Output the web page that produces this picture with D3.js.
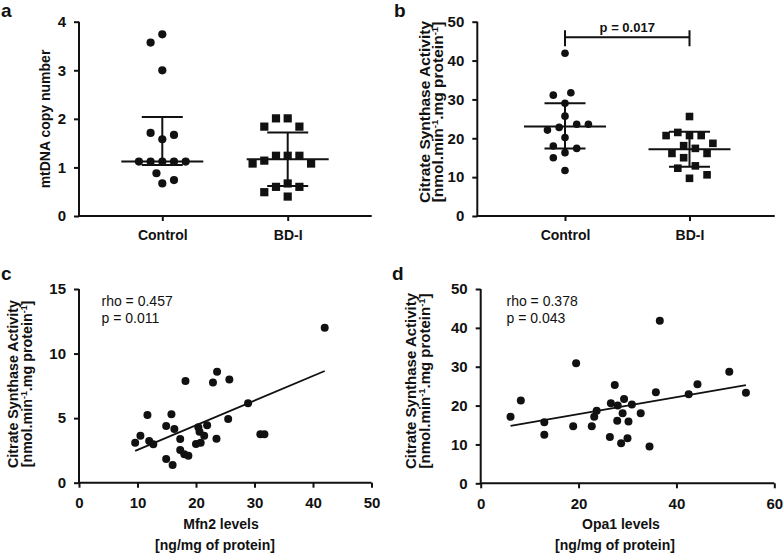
<!DOCTYPE html>
<html><head><meta charset="utf-8">
<script src="https://cdn.jsdelivr.net/npm/d3@7"></script>
<style>
body{margin:0;background:#fff}
svg{display:block}
text{font-family:"Liberation Sans",Arial,Helvetica,sans-serif;fill:#111}
</style>
</head><body>
<svg id="chart" width="783" height="556"></svg>
<script>
// ---------------- data ----------------
const groups = ["Control", "BD-I"];

// panel a: mtDNA copy number
const mtdnaTicks = [0, 1, 2, 3, 4];
const mtdnaControl = [3.74, 3.57, 3.00, 1.58, 1.71, 1.67, 1.12, 1.12, 1.12, 1.12, 1.12, 0.67, 0.88, 0.74];
const mtdnaBD = [2.01, 2.01, 1.84, 1.84, 1.24, 1.24, 1.24, 1.14, 1.08, 1.08, 0.67, 0.60, 0.60, 0.49, 0.40];
const mtdnaMedian = [1.12, 1.17];
const mtdnaLow = [1.05, 0.62];
const mtdnaHigh = [2.04, 1.72];

// panel b: citrate synthase activity
const csTicks = [0, 10, 20, 30, 40, 50];
const csControl = [41.9, 29.0, 31.1, 31.7, 25.7, 22.8, 23.6, 22.1, 23.6, 20.2, 18.0, 16.3, 17.4, 15.0, 11.7];
const csBD = [25.6, 20.7, 21.5, 20.7, 20.7, 18.7, 18.1, 17.4, 16.1, 16.1, 15.0, 12.9, 12.3, 10.6, 9.7];
const csMedian = [23.0, 17.2];
const csLow = [17.4, 12.7];
const csHigh = [29.0, 21.7];
const csPLabel = "p = 0.017";
const csBracketValue = 46;

// panel c: Mfn2 vs citrate synthase
const mfn2XTicks = [0, 10, 20, 30, 40, 50];
const mfn2YTicks = [0, 5, 10, 15];
const mfn2Levels = [42.0, 23.6, 25.7, 22.9, 18.2, 28.9, 11.7, 15.8, 25.5, 14.9, 16.3, 20.4, 21.9, 20.6, 21.4, 10.5, 31.0, 31.7, 17.3, 23.5, 9.6, 12.0, 12.7, 20.0, 20.8, 17.3, 18.0, 18.7, 14.9, 16.0];
const mfn2CS = [12.0, 8.6, 8.0, 7.75, 7.88, 6.15, 5.24, 5.3, 4.93, 4.39, 4.16, 4.29, 4.44, 3.95, 3.64, 3.64, 3.75, 3.75, 3.39, 3.41, 3.1, 3.23, 2.97, 3.0, 3.1, 2.53, 2.2, 2.09, 1.84, 1.37];
const mfn2Fit = [0.626, 0.191];           // intercept, slope
const mfn2Stats = ["rho = 0.457", "p = 0.011"];

// panel d: Opa1 vs citrate synthase
const opa1XTicks = [0, 20, 40, 60];
const opa1YTicks = [0, 10, 20, 30, 40, 50];
const opa1Levels = [36.6, 19.5, 50.8, 27.4, 44.3, 35.8, 54.2, 42.5, 8.2, 29.3, 26.6, 28.0, 30.9, 23.7, 23.2, 29.0, 32.7, 6.1, 13.0, 27.9, 30.2, 18.9, 22.7, 13.0, 26.4, 30.0, 28.7, 34.5];
const opa1CS = [41.8, 30.9, 28.7, 25.3, 25.5, 23.4, 23.3, 22.9, 21.3, 21.7, 20.6, 20.0, 20.3, 18.7, 17.1, 18.0, 18.0, 17.1, 15.7, 16.1, 15.9, 14.7, 14.7, 12.5, 11.9, 11.6, 10.3, 9.5];
const opa1Fit = [13.48, 0.217];
const opa1Stats = ["rho = 0.378", "p = 0.043"];

// ---------------- drawing ----------------
const svg = d3.select("#chart");
svg.append("rect").attr("width", 783).attr("height", 556).attr("fill", "#fff");
const INK = "#111";
const fmt = d3.format("d");

function styleAxis(size) {
  return g => {
    g.select(".domain").remove();
    g.selectAll(".tick line").attr("stroke", INK).attr("stroke-width", 2);
    g.selectAll(".tick text").attr("fill", INK)
      .style("font-size", size + "px").style("font-weight", "bold")
      .style("font-family", '"Liberation Sans",Arial,sans-serif');
  };
}

function frame(g, x0, x1, yBottom, yTop) {
  g.append("path")
    .attr("d", `M${x0},${yTop}V${yBottom}H${x1}`)
    .attr("fill", "none").attr("stroke", INK).attr("stroke-width", 2);
}

function panelLetter(letter, x, y) {
  svg.append("text").attr("x", x).attr("y", y).text(letter)
    .style("font-size", "19px").style("font-weight", "bold");
}

// rotated y label, lines: array of arrays of [text, isSup]
function yLabel(cx, cy, lines, size, gap) {
  const t = svg.append("text")
    .attr("transform", `translate(${cx},${cy}) rotate(-90)`)
    .attr("text-anchor", "middle")
    .style("font-size", size + "px").style("font-weight", "bold");
  lines.forEach((parts, i) => {
    const line = t.append("tspan").attr("x", 0).attr("y", i * gap);
    parts.forEach(([s, sup]) => {
      const ts = line.append("tspan").text(s);
      if (sup) ts.style("font-size", (size * 0.62) + "px").attr("baseline-shift", "super");
    });
  });
}

const CS_LINES = [
  [["Citrate Synthase Activity", false]],
  [["[nmol.min", false], ["-1", true], [".mg protein", false], ["-1", true], ["]", false]]
];

// simple swarm layout computed from values (in array order)
function swarm(values, y, step, minD) {
  const placed = [];
  return values.map(v => {
    const py = y(v);
    for (let k = 0; k < 40; k++) {
      const cands = k === 0 ? [0] : [-k * step, k * step];
      for (const dx of cands) {
        if (placed.every(p => Math.hypot(p.dx - dx, p.y - py) >= minD)) {
          placed.push({dx, y: py});
          return dx;
        }
      }
    }
    return 0;
  });
}

function dotPanel(opt) {
  const g = svg.append("g");
  const y = d3.scaleLinear().domain(opt.yDomain).range([opt.yBottom, opt.yTop]);
  const x = d3.scalePoint().domain(groups).range(opt.xRange);
  frame(g, opt.x0, opt.x1, opt.yBottom, opt.yTop);
  g.append("g").attr("transform", `translate(${opt.x0},0)`)
    .call(d3.axisLeft(y).tickValues(opt.ticks).tickFormat(fmt).tickSize(5).tickPadding(8).tickSizeOuter(0))
    .call(styleAxis(15));
  g.append("g").attr("transform", `translate(0,${opt.yBottom})`)
    .call(d3.axisBottom(x).tickSize(5).tickPadding(9).tickSizeOuter(0))
    .call(styleAxis(14));

  const step = 5.85, minD = 11.5;
  const marks = g.append("g");
  // control: circles
  const offC = swarm(opt.control, y, step, minD);
  marks.selectAll("circle").data(opt.control).join("circle")
    .attr("cx", (d, i) => x(groups[0]) + offC[i]).attr("cy", d => y(d))
    .attr("r", opt.r).attr("fill", INK);
  // BD-I: squares
  const offB = swarm(opt.bd, y, step, minD);
  const s = opt.r * 2;
  marks.selectAll("rect").data(opt.bd).join("rect")
    .attr("x", (d, i) => x(groups[1]) + offB[i] - s / 2).attr("y", d => y(d) - s / 2)
    .attr("width", s).attr("height", s).attr("fill", INK);

  // median with interquartile range
  const bars = g.append("g").attr("stroke", INK).attr("stroke-width", 2);
  groups.forEach((grp, i) => {
    const cx = x(grp);
    bars.append("line").attr("x1", cx - 41).attr("x2", cx + 41)
      .attr("y1", y(opt.median[i])).attr("y2", y(opt.median[i]));
    bars.append("line").attr("x1", cx).attr("x2", cx)
      .attr("y1", y(opt.low[i])).attr("y2", y(opt.high[i]));
    [opt.low[i], opt.high[i]].forEach(v => {
      bars.append("line").attr("x1", cx - 20.5).attr("x2", cx + 20.5)
        .attr("y1", y(v)).attr("y2", y(v));
    });
  });
  return {x, y, g};
}

// ---- panel a ----
panelLetter("a", 1, 17);
dotPanel({
  x0: 79, x1: 371.7, yBottom: 216, yTop: 21.7, yDomain: [0, 4], ticks: mtdnaTicks,
  xRange: [162.3, 287.7], control: mtdnaControl, bd: mtdnaBD,
  median: mtdnaMedian, low: mtdnaLow, high: mtdnaHigh, r: 4.1
});
yLabel(50, 119, [[["mtDNA copy number", false]]], 14, 0);

// ---- panel b ----
panelLetter("b", 394, 17);
const pb = dotPanel({
  x0: 477.3, x1: 774.7, yBottom: 216, yTop: 21.7, yDomain: [0, 50], ticks: csTicks,
  xRange: [565, 689.5], control: csControl, bd: csBD,
  median: csMedian, low: csLow, high: csHigh, r: 3.8
});
yLabel(430, 112, CS_LINES, 15.5, 13.3);
{
  const yB = pb.y(csBracketValue), xa = pb.x(groups[0]), xbb = pb.x(groups[1]);
  pb.g.append("path")
    .attr("d", `M${xa},${yB - 7}V${yB + 9}M${xa},${yB}H${xbb}M${xbb},${yB - 7}V${yB + 9}`)
    .attr("fill", "none").attr("stroke", INK).attr("stroke-width", 2);
  pb.g.append("text").attr("x", (xa + xbb) / 2).attr("y", yB - 5)
    .attr("text-anchor", "middle").text(csPLabel)
    .style("font-size", "13px").style("font-weight", "bold");
}

// ---- scatter panels ----
function scatterPanel(opt) {
  const g = svg.append("g");
  const x = d3.scaleLinear().domain(opt.xDomain).range([opt.x0, opt.x1]);
  const y = d3.scaleLinear().domain(opt.yDomain).range([opt.yBottom, opt.yTop]);
  frame(g, opt.x0, opt.x1, opt.yBottom, opt.yTop);
  g.append("g").attr("transform", `translate(${opt.x0},0)`)
    .call(d3.axisLeft(y).tickValues(opt.yTicks).tickFormat(fmt).tickSize(5).tickPadding(8).tickSizeOuter(0))
    .call(styleAxis(15));
  g.append("g").attr("transform", `translate(0,${opt.yBottom})`)
    .call(d3.axisBottom(x).tickValues(opt.xTicks).tickFormat(fmt).tickSize(5).tickPadding(10).tickSizeOuter(0))
    .call(styleAxis(15));
  const [lo, hi] = d3.extent(opt.xs);
  g.append("line")
    .attr("x1", x(lo)).attr("y1", y(opt.fit[0] + opt.fit[1] * lo))
    .attr("x2", x(hi)).attr("y2", y(opt.fit[0] + opt.fit[1] * hi))
    .attr("stroke", INK).attr("stroke-width", 1.8);
  g.selectAll("circle.pt").data(opt.xs).join("circle").attr("class", "pt")
    .attr("cx", d => x(d)).attr("cy", (d, i) => y(opt.ys[i]))
    .attr("r", 4).attr("fill", INK);
  const st = g.append("text").style("font-size", "14px");
  opt.stats.forEach((s, i) => {
    st.append("tspan").attr("x", opt.statX).attr("y", 306 + i * 17).text(s);
  });
  const cx = opt.labelX;
  g.append("text").attr("x", cx).attr("y", 529).attr("text-anchor", "middle")
    .text(opt.xLabel).style("font-size", "14px").style("font-weight", "bold");
  g.append("text").attr("x", cx - 6).attr("y", 550).attr("text-anchor", "middle")
    .text("[ng/mg of protein]").style("font-size", "14px").style("font-weight", "bold");
}

panelLetter("c", 1, 280);
scatterPanel({
  x0: 79, x1: 371.5, yBottom: 482.7, yTop: 289, xDomain: [0, 50], yDomain: [0, 15],
  xTicks: mfn2XTicks, yTicks: mfn2YTicks, xs: mfn2Levels, ys: mfn2CS, fit: mfn2Fit,
  stats: mfn2Stats, statX: 101.5, xLabel: "Mfn2 levels", labelX: 221
});
yLabel(17.5, 384, CS_LINES, 14.3, 14.5);

panelLetter("d", 392, 280);
scatterPanel({
  x0: 480.7, x1: 774.3, yBottom: 483.3, yTop: 289, xDomain: [0, 60], yDomain: [0, 50],
  xTicks: opa1XTicks, yTicks: opa1YTicks, xs: opa1Levels, ys: opa1CS, fit: opa1Fit,
  stats: opa1Stats, statX: 506.5, xLabel: "Opa1 levels", labelX: 621
});
yLabel(416, 381, CS_LINES, 15, 14);
</script>
</body></html>
